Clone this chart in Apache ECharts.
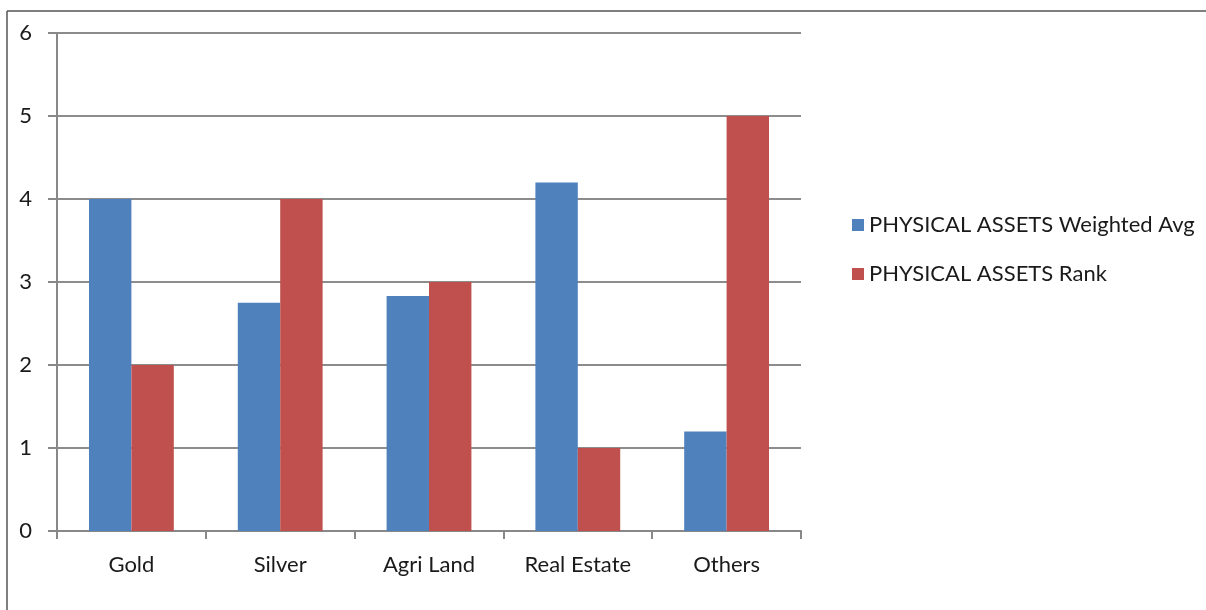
<!DOCTYPE html>
<html>
<head>
<meta charset="utf-8">
<title>physical assets</title>
<script type="text/javascript" src="https://cdn.jsdelivr.net/npm/echarts@6/dist/echarts.min.js"></script>
<style>
	html, body { margin: 0; padding: 0; background: #fff; }
	#container { width: 1206px; height: 610px; }
</style>
</head>
<body>
	<div id="container"></div>
	<script type="text/javascript">
	// data
	var categories = ['Gold', 'Silver', 'Agri Land', 'Real Estate', 'Others'];
	var weightedAvg = [4.0, 2.75, 2.83, 4.2, 1.2];
	var rank = [2, 4, 3, 1, 5];
	var seriesNames = ['PHYSICAL ASSETS Weighted Avg', 'PHYSICAL ASSETS Rank'];
	var yTicks = [0, 1, 2, 3, 4, 5, 6];

	var font = 'Lato, "Open Sans", sans-serif';
	var dom = document.getElementById('container');
	var myChart = echarts.init(dom);

	var option = {
		animation: false,
		backgroundColor: '#fff',
		textStyle: { fontFamily: font },
		graphic: [
			{ type: 'line', shape: { x1: 7, y1: 11, x2: 1206, y2: 11 }, style: { stroke: '#555', lineWidth: 1.5 } },
			{ type: 'line', shape: { x1: 7, y1: 11, x2: 7, y2: 610 }, style: { stroke: '#555', lineWidth: 1.5 } }
		],
		grid: { left: 57, top: 33, width: 744, height: 498, containLabel: false },
		legend: {
			orient: 'vertical',
			left: 847,
			top: 209,
			itemWidth: 12,
			itemHeight: 12,
			itemGap: 27,
			icon: 'rect',
			textStyle: { fontSize: 22, color: '#1a1a1a', fontFamily: font },
			data: seriesNames
		},
		xAxis: {
			type: 'category',
			data: categories,
			axisLine: { lineStyle: { color: '#888', width: 2 } },
			axisTick: { show: true, length: 8, lineStyle: { color: '#888', width: 2 } },
			axisLabel: { fontSize: 22, color: '#1a1a1a', margin: 23, fontFamily: font },
			splitLine: { show: false }
		},
		yAxis: {
			type: 'value',
			min: yTicks[0],
			max: yTicks[yTicks.length - 1],
			interval: 1,
			axisLine: { show: true, lineStyle: { color: '#888', width: 2 } },
			axisTick: { show: true, length: 9, lineStyle: { color: '#888', width: 2 } },
			axisLabel: { fontSize: 22, color: '#1a1a1a', margin: 25, fontFamily: font },
			splitLine: { show: true, lineStyle: { color: '#8c8c8c', width: 2 } }
		},
		series: [
			{
				name: seriesNames[0],
				type: 'bar',
				data: weightedAvg,
				barGap: '0%',
				barCategoryGap: '43%',
				itemStyle: { color: '#4f81bd' }
			},
			{
				name: seriesNames[1],
				type: 'bar',
				data: rank,
				barGap: '0%',
				barCategoryGap: '43%',
				itemStyle: { color: '#c0504d' }
			}
		]
	};
	myChart.setOption(option, true);
	</script>
</body>
</html>
